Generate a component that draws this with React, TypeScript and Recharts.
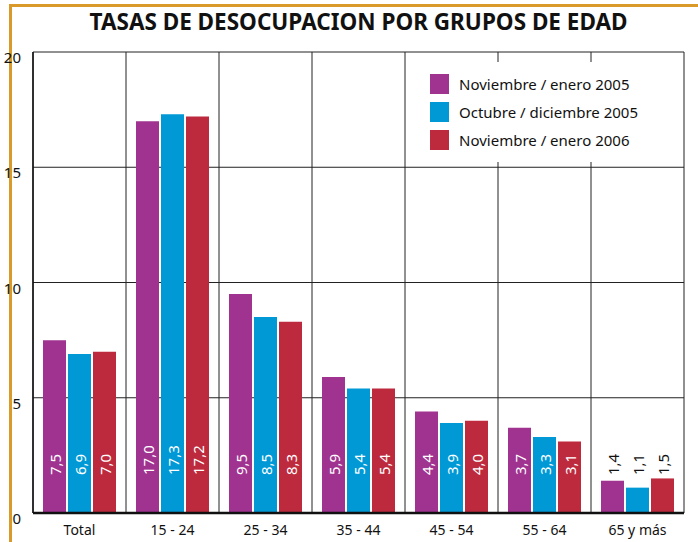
import { Bar, BarChart, CartesianGrid, LabelList, Legend, XAxis, YAxis } from 'recharts'

const categories = ['Total', '15 - 24', '25 - 34', '35 - 44', '45 - 54', '55 - 64', '65 y más']
const novEne2005 = [7.5, 17.0, 9.5, 5.9, 4.4, 3.7, 1.4]
const octDic2005 = [6.9, 17.3, 8.5, 5.4, 3.9, 3.3, 1.1]
const novEne2006 = [7.0, 17.2, 8.3, 5.4, 4.0, 3.1, 1.5]
const yTicks = [0, 5, 10, 15, 20]

const seriesNames = ['Noviembre / enero 2005', 'Octubre / diciembre 2005', 'Noviembre / enero 2006']
const seriesColors = ['#A0338F', '#0099D6', '#BE2A3D']

const FONT = '"Noto Sans", "Open Sans", sans-serif'

const data = categories.map((name, i) => ({
  name,
  a: novEne2005[i],
  b: octDic2005[i],
  c: novEne2006[i]
}))

function formatValue(value: number): string {
  return value.toFixed(1).replace('.', ',')
}

function BarValueLabel(props: any) {
  const { x, y, width, height, value } = props
  const cx = Number(x) + Number(width) / 2
  const baseY = Number(y) + Number(height) - 38
  const fill = value >= 2 ? '#ffffff' : '#111111'
  return (
    <text
      x={cx}
      y={baseY}
      transform={`rotate(-90 ${cx} ${baseY})`}
      textAnchor="start"
      dominantBaseline="central"
      fill={fill}
      fontSize={15}
      fontFamily={FONT}
    >
      {formatValue(Number(value))}
    </text>
  )
}

function YTick(props: any) {
  const { x, y, payload } = props
  return (
    <text x={x - 4} y={y + 11} textAnchor="end" fontSize={15} fontFamily={FONT} fill="#111">
      {payload.value}
    </text>
  )
}

function XTick(props: any) {
  const { x, y, payload } = props
  return (
    <text x={x} y={y + 14} textAnchor="middle" fontSize={14} fontFamily={FONT} fill="#111">
      {payload.value}
    </text>
  )
}

function LegendBox() {
  return (
    <div style={{ background: '#fff', padding: '8px 0 8px 16px', fontFamily: FONT }}>
      {seriesNames.map((name, i) => (
        <div key={name} style={{ display: 'flex', alignItems: 'center', height: 28 }}>
          <span style={{ width: 19, height: 20, background: seriesColors[i], display: 'inline-block' }} />
          <span style={{ marginLeft: 10, fontSize: 15, color: '#111' }}>{name}</span>
        </div>
      ))}
    </div>
  )
}

export default function App() {
  return (
    <div style={{ position: 'absolute', left: 0, top: 0, width: 698, height: 542, background: '#fff' }}>
      <div style={{ position: 'absolute', left: 9, top: 4, width: 3, height: 538, background: '#D99A2A' }} />
      <div style={{ position: 'absolute', left: 9, top: 4, width: 689, height: 3, background: '#D99A2A' }} />
      <div
        style={{
          position: 'absolute',
          left: 33,
          top: 6,
          width: 651,
          textAlign: 'center',
          fontFamily: FONT,
          fontWeight: 700,
          fontSize: 22.5,
          color: '#111'
        }}
      >
        TASAS DE DESOCUPACION POR GRUPOS DE EDAD
      </div>
      <BarChart
        width={698}
        height={542}
        data={data}
        margin={{ top: 52, right: 14, bottom: 0, left: 0 }}
        barSize={23}
        barGap={2}
      >
        <CartesianGrid
          stroke="#222"
          strokeWidth={1}
          verticalCoordinatesGenerator={({ offset }: any) =>
            categories.map((_, i) => offset.left + (offset.width * i) / categories.length).concat(offset.left + offset.width)
          }
        />
        <XAxis
          dataKey="name"
          height={29}
          tickLine={false}
          axisLine={{ stroke: '#111', strokeWidth: 2.5 }}
          tick={<XTick />}
          interval={0}
        />
        <YAxis
          width={33}
          domain={[0, 20]}
          ticks={yTicks}
          tickLine={false}
          axisLine={{ stroke: '#111', strokeWidth: 1.5 }}
          tick={<YTick />}
          interval={0}
        />
        <Legend
          verticalAlign="middle"
          layout="horizontal"
          content={<LegendBox />}
          wrapperStyle={{ left: 414, top: 62, width: 266 }}
        />
        <Bar dataKey="a" fill={seriesColors[0]} isAnimationActive={false}>
          <LabelList dataKey="a" content={<BarValueLabel />} />
        </Bar>
        <Bar dataKey="b" fill={seriesColors[1]} isAnimationActive={false}>
          <LabelList dataKey="b" content={<BarValueLabel />} />
        </Bar>
        <Bar dataKey="c" fill={seriesColors[2]} isAnimationActive={false}>
          <LabelList dataKey="c" content={<BarValueLabel />} />
        </Bar>
      </BarChart>
    </div>
  )
}
